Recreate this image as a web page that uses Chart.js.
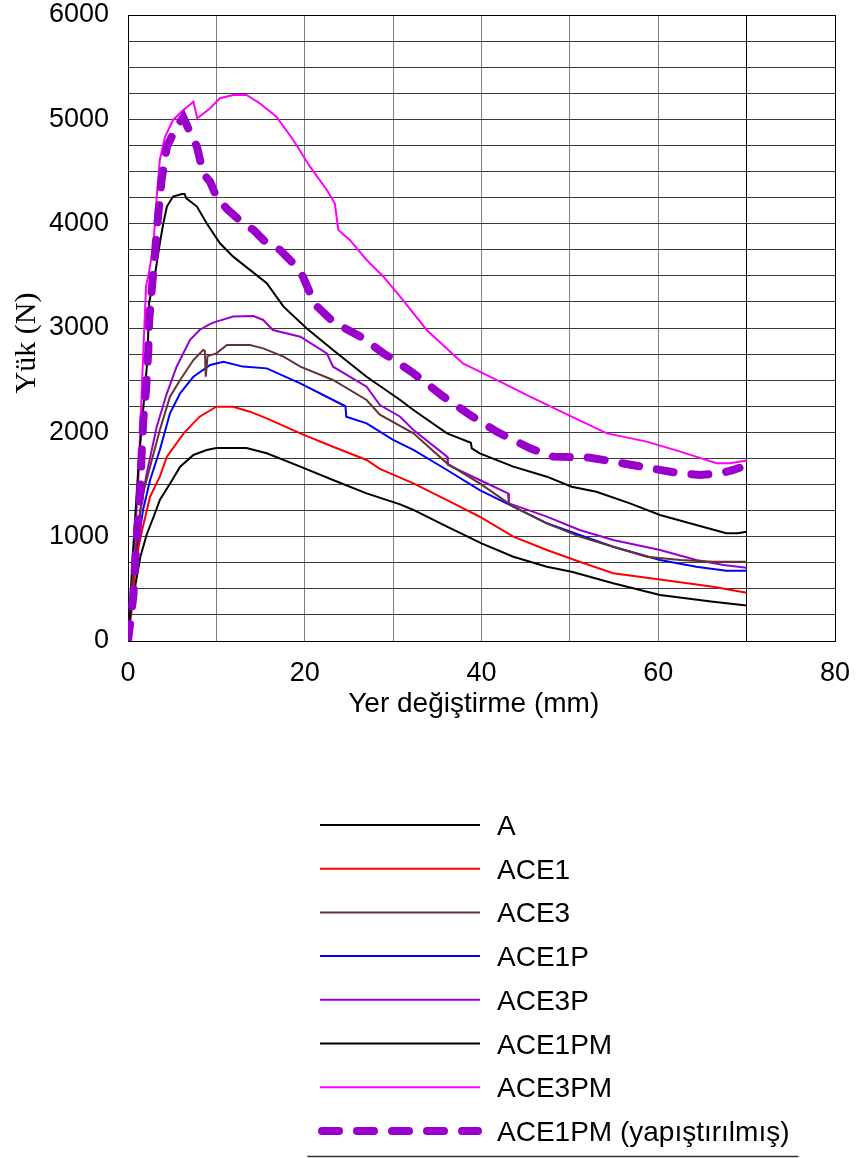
<!DOCTYPE html>
<html>
<head>
<meta charset="utf-8">
<script src="https://cdn.jsdelivr.net/npm/chart.js@4.4.1/dist/chart.umd.min.js"></script>
<style>
  html, body { margin: 0; padding: 0; background: #fff; }
  #wrap { width: 858px; height: 1158px; }
</style>
</head>
<body>
<div id="wrap"><canvas id="chartCanvas" width="858" height="1158"></canvas></div>
<script>
// values (x = mm, y = N)
const aX = [0, 0.3, 0.8, 1.4, 2.1, 2.9, 3.6, 4.8, 5.9, 7.4, 8.9, 10, 13.4, 15.7, 19.5, 23.2, 27, 30.8, 32.3, 36.1, 40, 43.6, 47.4, 50.2, 54.9, 60.2, 66.2, 70];
const aY = [0, 300, 520, 808, 1016, 1191, 1351, 1514, 1671, 1783, 1831, 1850, 1850, 1799, 1671, 1543, 1415, 1310, 1256, 1096, 936, 808, 712, 664, 553, 441, 377, 340];

const ace1X = [0, 0.5, 1.2, 1.6, 2.5, 3.6, 4.4, 6.3, 8.1, 10, 11.9, 13.8, 15.7, 19.5, 23.2, 27, 28.5, 32.3, 36.1, 39.8, 43.6, 47.4, 51.1, 54.9, 60.6, 66.2, 70];
const ace1Y = [0, 450, 904, 1064, 1383, 1575, 1767, 1990, 2150, 2246, 2246, 2198, 2134, 1990, 1862, 1735, 1650, 1511, 1351, 1191, 1000, 872, 760, 649, 585, 520, 463];

const ace3X = [0, 0.5, 1.2, 1.8, 2.3, 3.6, 4.75, 5.9, 7.4, 8.5, 8.7, 8.8, 9.0, 10, 11.2, 11.9, 13.8, 15.3, 17.6, 19.5, 23.2, 27, 28.5, 32.3, 36.1, 39.8, 43.6, 47.4, 51.1, 54.9, 58.7, 62.5, 66.2, 70];
const ace3Y = [0, 550, 1150, 1450, 1607, 2022, 2342, 2502, 2693, 2789, 2780, 2533, 2730, 2757, 2837, 2837, 2837, 2805, 2725, 2630, 2502, 2310, 2170, 1990, 1703, 1511, 1288, 1128, 1000, 904, 808, 776, 760, 760];

const ace1pX = [0, 0.5, 1.2, 1.7, 2.5, 3.6, 4.75, 5.9, 7.4, 9.3, 10.8, 13, 15.7, 19.5, 23.2, 24.6, 24.7, 27, 30, 32.3, 36.1, 39.8, 43.6, 47.4, 51.1, 54.9, 60.2, 64.3, 67.7, 70];
const ace1pY = [0, 500, 968, 1256, 1543, 1831, 2182, 2374, 2533, 2645, 2677, 2630, 2613, 2469, 2310, 2250, 2150, 2086, 1927, 1831, 1639, 1447, 1288, 1128, 1016, 904, 776, 712, 674, 674];

const ace3pX = [0, 0.5, 1.4, 2.1, 3.25, 4.4, 5.5, 7.0, 8.1, 9.3, 10, 11.9, 14.2, 15.3, 16.4, 19.5, 22.5, 23.2, 27, 28.5, 30.8, 32.3, 36.1, 36.2, 39.8, 43, 43.1, 47.4, 51.1, 54.9, 60.2, 64.3, 67.4, 70];
const ace3pY = [0, 550, 1256, 1600, 2054, 2374, 2629, 2885, 2981, 3040, 3061, 3110, 3115, 3077, 2981, 2917, 2757, 2629, 2438, 2262, 2150, 2022, 1767, 1687, 1543, 1415, 1319, 1192, 1064, 968, 872, 776, 728, 703];

const ace1pmX = [0, 0.6, 1.2, 1.8, 2.2, 2.4, 3.05, 3.6, 4.0, 4.4, 5.1, 6.1, 6.4, 6.6, 7.8, 8.9, 10.4, 11.9, 15.7, 17.6, 20.2, 23.2, 27, 30.8, 32.3, 36.1, 38.8, 38.9, 39.8, 43.6, 47.4, 50.2, 53, 56.8, 60.2, 64.3, 67.7, 69, 70];
const ace1pmY = [0, 900, 1700, 2300, 2700, 3250, 3508, 3812, 4004, 4164, 4260, 4284, 4284, 4243, 4164, 4004, 3812, 3684, 3429, 3205, 2997, 2789, 2533, 2310, 2214, 1990, 1900, 1847, 1799, 1671, 1575, 1479, 1431, 1319, 1208, 1112, 1032, 1032, 1048];

const ace3pmX = [0, 0.4, 0.8, 1.17, 1.6, 2.04, 2.3, 2.86, 3.25, 3.6, 4.2, 5.1, 6.26, 7.2, 7.4, 7.84, 9.3, 10.4, 11.9, 13.4, 14.9, 16.8, 18.7, 20.6, 22.5, 23.4, 23.8, 25.1, 27, 28.9, 30.8, 33.8, 37.9, 41.7, 45.5, 50.2, 54.2, 58.7, 62.5, 66.6, 68.1, 70];
const ace3pmY = [0, 270, 1000, 1543, 2500, 3400, 3500, 3780, 4260, 4610, 4834, 4994, 5090, 5154, 5170, 5010, 5106, 5202, 5234, 5234, 5154, 5026, 4802, 4546, 4323, 4195, 3940, 3844, 3652, 3492, 3300, 2981, 2661, 2502, 2342, 2150, 1990, 1911, 1815, 1703, 1703, 1729];

const gluedX = [0, 0.6, 0.8, 1.0, 1.36, 1.55, 1.73, 2.04, 2.3, 2.4, 2.68, 3.05, 3.4, 3.8, 4.4, 5.5, 6.26, 7.0, 7.8, 8.5, 9.3, 10, 11.2, 13, 14.2, 15.7, 17.2, 18.7, 19.8, 20.6, 21.4, 23.2, 26.3, 28.9, 30, 32.3, 35.7, 38.7, 41.7, 45.5, 48.1, 52.3, 54.9, 59.1, 62.5, 64.7, 67, 68.5, 69.2];
const gluedY = [0, 425, 747, 1000, 1415, 1799, 2118, 2406, 2789, 3077, 3364, 3716, 4068, 4419, 4738, 4930, 5020, 4880, 4738, 4483, 4400, 4259, 4140, 4004, 3940, 3812, 3748, 3620, 3492, 3332, 3205, 3060, 2917, 2757, 2700, 2566, 2342, 2166, 2007, 1847, 1767, 1757, 1719, 1655, 1607, 1591, 1607, 1639, 1660];

const seriesNames = ["A", "ACE1", "ACE3", "ACE1P", "ACE3P", "ACE1PM", "ACE3PM", "ACE1PM (yapıştırılmış)"];
const xTicks = [0, 20, 40, 60, 80];
const yTicks = [0, 1000, 2000, 3000, 4000, 5000, 6000];

const FONT = "'Liberation Sans', Arial, sans-serif";

function pts(xs, ys) {
  return xs.map((x, i) => ({ x, y: ys[i] }));
}

function line(label, xs, ys, color, extra) {
  return Object.assign({
    label,
    data: pts(xs, ys),
    borderColor: color,
    backgroundColor: color,
    borderWidth: 2,
    pointRadius: 0,
    showLine: true,
    tension: 0,
    fill: false
  }, extra || {});
}

const datasets = [
  line(seriesNames[0], aX, aY, "#000000"),
  line(seriesNames[1], ace1X, ace1Y, "#ff0000"),
  line(seriesNames[2], ace3X, ace3Y, "#663333"),
  line(seriesNames[3], ace1pX, ace1pY, "#0000ff"),
  line(seriesNames[4], ace3pX, ace3pY, "#9900cc"),
  line(seriesNames[5], ace1pmX, ace1pmY, "#000000"),
  line(seriesNames[6], ace3pmX, ace3pmY, "#ff00ff"),
  line(seriesNames[7], gluedX, gluedY, "#9900cc", {
    borderWidth: 8,
    borderDash: [17, 18],
    borderCapStyle: "round",
    order: -1
  })
];

// frame around the plot and the stacked legend below it
const frameAndLegend = {
  id: "frameAndLegend",
  beforeDatasetsDraw(chart) {
    const { ctx, chartArea: a } = chart;
    ctx.save();
    ctx.strokeStyle = "#000";
    ctx.lineWidth = 1;
    ctx.strokeRect(Math.round(a.left) + 0.5, Math.round(a.top) + 0.5,
      Math.round(a.right - a.left), Math.round(a.bottom - a.top));
    ctx.restore();
  },
  afterDraw(chart) {
    const ctx = chart.ctx;
    ctx.save();
    chart.data.datasets.forEach((ds, i) => {
      const y = 825 + i * 43.7;
      ctx.beginPath();
      ctx.strokeStyle = ds.borderColor;
      ctx.lineWidth = ds.borderWidth;
      ctx.lineCap = ds.borderCapStyle || "butt";
      ctx.setLineDash(ds.borderDash || []);
      if (ds.borderDash) {
        ctx.moveTo(322, y);
        ctx.lineTo(478, y);
      } else {
        ctx.moveTo(320, y);
        ctx.lineTo(480, y);
      }
      ctx.stroke();
      ctx.setLineDash([]);
      ctx.fillStyle = "#000";
      ctx.font = "28px " + FONT;
      ctx.textBaseline = "alphabetic";
      ctx.textAlign = "left";
      ctx.fillText(ds.label, 497, y + 10);
    });
    ctx.beginPath();
    ctx.strokeStyle = "#333";
    ctx.lineWidth = 1.5;
    ctx.moveTo(308, 1156.5);
    ctx.lineTo(798, 1156.5);
    ctx.stroke();
    ctx.restore();
  }
};

new Chart(document.getElementById("chartCanvas"), {
  type: "scatter",
  data: { datasets },
  options: {
    responsive: false,
    animation: false,
    devicePixelRatio: 1,
    layout: { padding: { left: 0, right: 23, top: 15, bottom: 437 } },
    plugins: {
      legend: { display: false },
      tooltip: { enabled: false }
    },
    scales: {
      x: {
        type: "linear",
        min: 0,
        max: 80,
        afterFit: s => {
          s.height = 80;
          s.paddingLeft = 0;
          s.paddingRight = 0;
        },
        ticks: {
          stepSize: 10,
          autoSkip: false,
          maxRotation: 0,
          padding: 16,
          color: "#000",
          font: { family: FONT, size: 27 },
          callback: v => xTicks.includes(v) ? String(v) : ""
        },
        grid: {
          drawTicks: false,
          lineWidth: 1,
          color: c => c.tick && c.tick.value === 70 ? "#000" : "#808080"
        },
        border: { display: false },
        title: {
          display: true,
          text: "Yer değiştirme (mm)  ",
          color: "#000",
          font: { family: FONT, size: 28 },
          padding: 0
        }
      },
      y: {
        type: "linear",
        min: 0,
        max: 6000,
        afterFit: s => {
          s.width = 128;
          s.paddingTop = 0;
          s.paddingBottom = 0;
        },
        ticks: {
          stepSize: 250,
          autoSkip: false,
          padding: 19,
          color: "#000",
          font: { family: FONT, size: 27, lineHeight: 1 },
          callback: v => yTicks.includes(v) ? String(v) : ""
        },
        grid: {
          drawTicks: false,
          lineWidth: 1,
          color: "#3a3a3a"
        },
        border: { display: false },
        title: {
          display: true,
          text: "Yük (N)    ",
          color: "#000",
          font: { family: "'Liberation Serif', 'Times New Roman', serif", size: 30 },
          padding: { top: 9, bottom: 0 }
        }
      }
    }
  },
  plugins: [frameAndLegend]
});
</script>
</body>
</html>
